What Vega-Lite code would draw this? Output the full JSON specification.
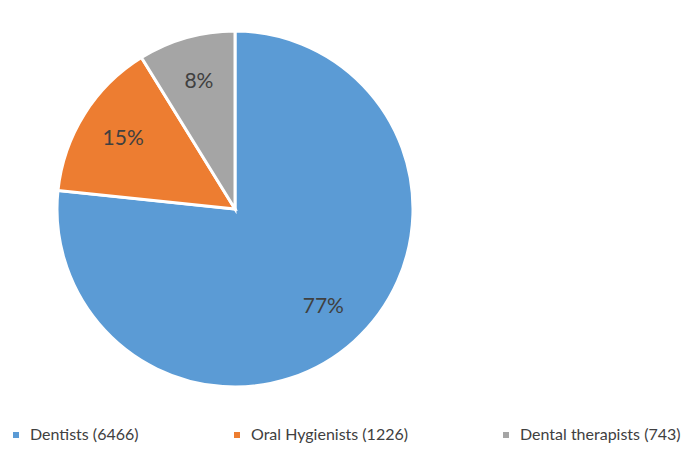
{
  "$schema": "https://vega.github.io/schema/vega-lite/v6.json",
  "width": 470,
  "height": 418,
  "autosize": {"type": "none"},
  "padding": {"left": 0, "top": 0, "right": 224, "bottom": 33},
  "background": "white",
  "config": {"view": {"stroke": null}},
  "data": {
    "values": [
      {"category": "Dentists (6466)", "count": 6466, "pct": "77%", "order": 1},
      {"category": "Oral Hygienists (1226)", "count": 1226, "pct": "15%", "order": 2},
      {"category": "Dental therapists (743)", "count": 743, "pct": "8%", "order": 3}
    ]
  },
  "encoding": {
    "theta": {"field": "count", "type": "quantitative", "stack": true},
    "order": {"field": "order", "type": "quantitative"}
  },
  "layer": [
    {
      "mark": {"type": "arc", "outerRadius": 178, "stroke": "white", "strokeWidth": 3},
      "encoding": {
        "color": {
          "field": "category",
          "type": "nominal",
          "scale": {
            "domain": ["Dentists (6466)", "Oral Hygienists (1226)", "Dental therapists (743)"],
            "range": ["#5B9BD5", "#ED7D31", "#A5A5A5"]
          },
          "legend": {
            "title": null,
            "orient": "none",
            "legendX": 8,
            "legendY": 427,
            "direction": "horizontal",
            "symbolType": "square",
            "symbolSize": 36,
            "symbolStrokeWidth": 0,
            "labelFont": "Lato",
            "labelFontSize": 16,
            "labelColor": "#404040",
            "labelOffset": 6,
            "labelLimit": 300,
            "columnPadding": 90
          }
        }
      }
    },
    {
      "mark": {"type": "text", "radius": 132, "font": "Lato", "fontSize": 21, "fill": "#404040"},
      "encoding": {
        "text": {"field": "pct", "type": "nominal"}
      }
    }
  ]
}
